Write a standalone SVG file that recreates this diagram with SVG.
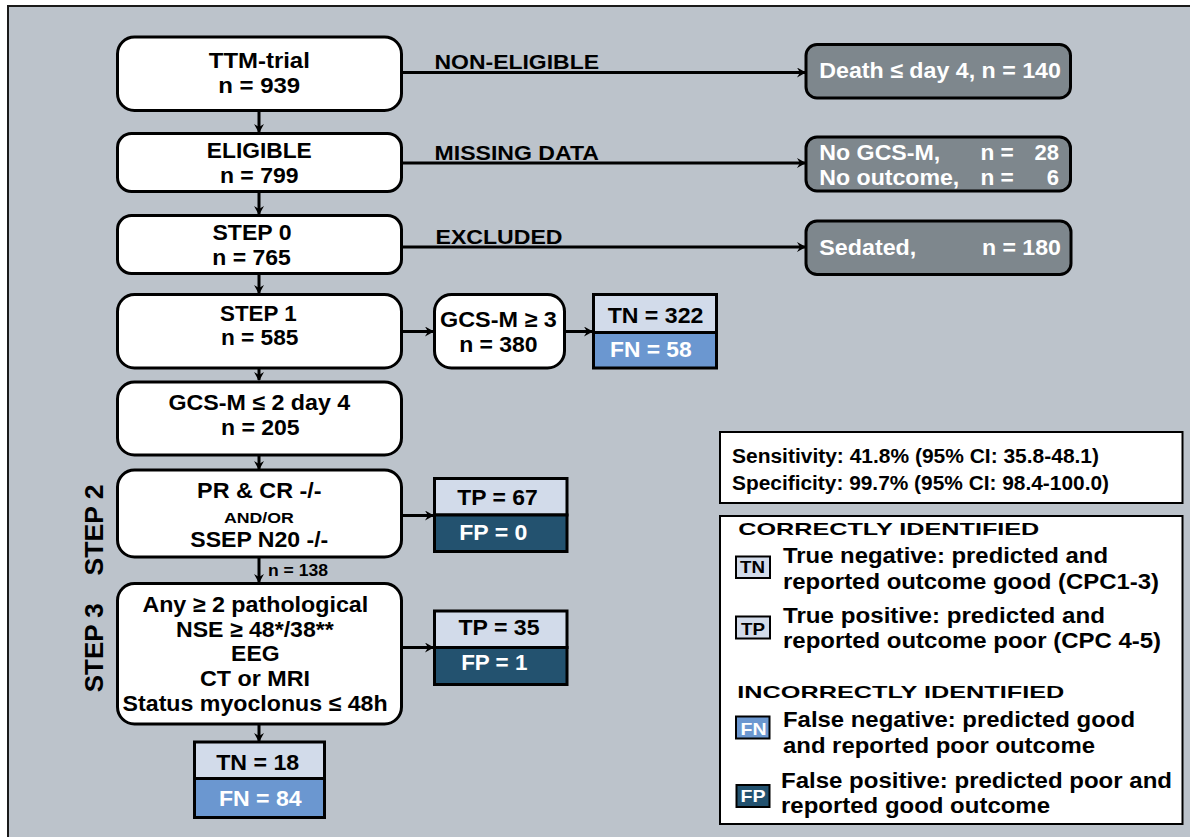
<svg xmlns="http://www.w3.org/2000/svg" width="1190" height="837" viewBox="0 0 1190 837">
<defs>
<style>
.bg{fill:#bcc3cb;stroke:#1a1a1a;stroke-width:2}
.box{fill:#ffffff;stroke:#000;stroke-width:3}
.gbox{fill:#7e878d;stroke:#000;stroke-width:3}
.lt{fill:#d2dbea;stroke:#000;stroke-width:3}
.fn{fill:#6b97d0;stroke:#000;stroke-width:3}
.fp{fill:#23526f;stroke:#000;stroke-width:3}
.ico{stroke-width:2}
text{font-family:"Liberation Sans",Arial,sans-serif;font-weight:bold}
.t{font-size:22px;fill:#000;text-anchor:middle}
.tw{font-size:22px;fill:#fff}
.lab{font-size:21px;fill:#000}
.sm{font-size:15px;fill:#000;text-anchor:middle}
.st{font-size:20px;fill:#000}
.leg{font-size:22px;fill:#000}
.hd{font-size:17px;fill:#000}
.ic{font-size:17px;text-anchor:middle}
.ln{stroke:#000;stroke-width:3;fill:none}
</style>
<marker id="ah" markerWidth="10" markerHeight="10" refX="8" refY="5" orient="auto" markerUnits="userSpaceOnUse">
<path d="M0,0 L9,5 L0,10 L3,5 Z" fill="#000"/>
</marker>
</defs>
<rect x="0" y="0" width="1190" height="837" fill="#fff"/>
<rect class="bg" x="8" y="6" width="1190" height="840"/>

<g id="connectors">
<line class="ln" x1="259" y1="111" x2="259" y2="132" marker-end="url(#ah)"/>
<line class="ln" x1="259" y1="192" x2="259" y2="214" marker-end="url(#ah)"/>
<line class="ln" x1="259" y1="273" x2="259" y2="293" marker-end="url(#ah)"/>
<line class="ln" x1="259" y1="368" x2="259" y2="380" marker-end="url(#ah)"/>
<line class="ln" x1="259" y1="455" x2="259" y2="469" marker-end="url(#ah)"/>
<line class="ln" x1="259" y1="557" x2="259" y2="582" marker-end="url(#ah)"/>
<line class="ln" x1="259" y1="724" x2="259" y2="741" marker-end="url(#ah)"/>
<line class="ln" x1="402" y1="72.5" x2="805" y2="72.5" marker-end="url(#ah)"/>
<line class="ln" x1="402" y1="163" x2="805" y2="163" marker-end="url(#ah)"/>
<line class="ln" x1="402" y1="247" x2="805" y2="247" marker-end="url(#ah)"/>
<line class="ln" x1="402" y1="331.5" x2="433" y2="331.5" marker-end="url(#ah)"/>
<line class="ln" x1="565" y1="331.5" x2="592" y2="331.5" marker-end="url(#ah)"/>
<line class="ln" x1="402" y1="515.5" x2="433" y2="515.5" marker-end="url(#ah)"/>
<line class="ln" x1="402" y1="647.5" x2="433" y2="647.5" marker-end="url(#ah)"/>
<text class="lab" x="434.5" y="69" textLength="164.5" lengthAdjust="spacingAndGlyphs">NON-ELIGIBLE</text>
<text class="lab" x="434.5" y="160" textLength="164.5" lengthAdjust="spacingAndGlyphs">MISSING DATA</text>
<text class="lab" x="435.5" y="244.3" textLength="127" lengthAdjust="spacingAndGlyphs">EXCLUDED</text>
<text x="268" y="576" style="font-size:16px" textLength="60" lengthAdjust="spacingAndGlyphs">n = 138</text>
</g>

<g id="ttm"><rect class="box" x="117.5" y="37" width="284" height="73.5" rx="17"/>
<text class="t" x="259.3" y="68.3" textLength="101" lengthAdjust="spacingAndGlyphs">TTM-trial</text>
<text class="t" x="259.2" y="93.3" textLength="82" lengthAdjust="spacingAndGlyphs">n = 939</text></g>
<g id="eligible"><rect class="box" x="117.5" y="133.5" width="284" height="58" rx="14"/>
<text class="t" x="259.3" y="157.7" textLength="105" lengthAdjust="spacingAndGlyphs">ELIGIBLE</text>
<text class="t" x="259.2" y="182.7" textLength="78.5" lengthAdjust="spacingAndGlyphs">n = 799</text></g>
<g id="step0"><rect class="box" x="117.5" y="215.5" width="284" height="58" rx="14"/>
<text class="t" x="252" y="240" textLength="79" lengthAdjust="spacingAndGlyphs">STEP 0</text>
<text class="t" x="251.6" y="265" textLength="78.5" lengthAdjust="spacingAndGlyphs">n = 765</text></g>
<g id="step1"><rect class="box" x="117.5" y="294.5" width="284" height="73.5" rx="17"/>
<text class="t" x="258.3" y="320.7" textLength="76.6" lengthAdjust="spacingAndGlyphs">STEP 1</text>
<text class="t" x="259.7" y="345" textLength="77.5" lengthAdjust="spacingAndGlyphs">n = 585</text></g>
<g id="gcs2"><rect class="box" x="117.5" y="382" width="284" height="73" rx="17"/>
<text class="t" x="259.3" y="410" textLength="181.8" lengthAdjust="spacingAndGlyphs">GCS-M ≤ 2 day 4</text>
<text class="t" x="260.3" y="435" textLength="78.7" lengthAdjust="spacingAndGlyphs">n = 205</text></g>
<g id="step2"><rect class="box" x="117.5" y="470" width="284" height="87" rx="17"/>
<text class="t" x="259.3" y="498.3" textLength="124.4" lengthAdjust="spacingAndGlyphs">PR &amp; CR -/-</text>
<text class="sm" x="258.9" y="522.7" textLength="70" lengthAdjust="spacingAndGlyphs">AND/OR</text>
<text class="t" x="259.3" y="546.7" textLength="138" lengthAdjust="spacingAndGlyphs">SSEP N20 -/-</text></g>
<g id="step3"><rect class="box" x="117.5" y="583.5" width="284" height="140.5" rx="17"/>
<text class="t" x="255.3" y="611.7" textLength="225.8" lengthAdjust="spacingAndGlyphs">Any ≥ 2 pathological</text>
<text class="t" x="254.9" y="636.7" textLength="157.7" lengthAdjust="spacingAndGlyphs">NSE ≥ 48*/38**</text>
<text class="t" x="255.3" y="661" textLength="48.4" lengthAdjust="spacingAndGlyphs">EEG</text>
<text class="t" x="255" y="686" textLength="110" lengthAdjust="spacingAndGlyphs">CT or MRI</text>
<text class="t" x="255.1" y="711" textLength="265" lengthAdjust="spacingAndGlyphs">Status myoclonus ≤ 48h</text></g>
<g id="steplabels">
<text class="lab" transform="translate(102.5,530) rotate(-90)" text-anchor="middle" style="font-size:26px" textLength="91" lengthAdjust="spacingAndGlyphs">STEP 2</text>
<text class="lab" transform="translate(102.5,647.7) rotate(-90)" text-anchor="middle" style="font-size:26px" textLength="89" lengthAdjust="spacingAndGlyphs">STEP 3</text>
</g>
<g id="gcs3"><rect class="box" x="434.5" y="294.5" width="130" height="73.5" rx="17"/>
<text class="t" x="498.4" y="326.7" textLength="116.8" lengthAdjust="spacingAndGlyphs">GCS-M ≥ 3</text>
<text class="t" x="498.4" y="351.7" textLength="78.5" lengthAdjust="spacingAndGlyphs">n = 380</text></g>
<g id="res1"><rect class="lt" x="593.5" y="294.5" width="123" height="38"/><rect class="fn" x="593.5" y="332.5" width="123" height="35.5"/>
<text class="t" x="655.5" y="323.3" textLength="95.7" lengthAdjust="spacingAndGlyphs">TN = 322</text>
<text class="tw" x="610" y="356.7" textLength="81.7" lengthAdjust="spacingAndGlyphs">FN = 58</text></g>
<g id="res2"><rect class="lt" x="434.5" y="478.5" width="132.5" height="36.5"/><rect class="fp" x="434.5" y="515" width="132.5" height="36.5"/>
<text class="t" x="497.5" y="505" textLength="80.4" lengthAdjust="spacingAndGlyphs">TP = 67</text>
<text class="tw" x="459.2" y="540" textLength="68.2" lengthAdjust="spacingAndGlyphs">FP = 0</text></g>
<g id="res3"><rect class="lt" x="434.5" y="611" width="132.5" height="36.5"/><rect class="fp" x="434.5" y="647.5" width="132.5" height="37"/>
<text class="t" x="499" y="635" textLength="81" lengthAdjust="spacingAndGlyphs">TP = 35</text>
<text class="tw" x="461.2" y="670" textLength="66.2" lengthAdjust="spacingAndGlyphs">FP = 1</text></g>
<g id="res4"><rect class="lt" x="194.5" y="742" width="130" height="36.5"/><rect class="fn" x="194.5" y="778.5" width="130" height="39"/>
<text class="t" x="257.7" y="770" textLength="83" lengthAdjust="spacingAndGlyphs">TN = 18</text>
<text class="tw" x="218.9" y="805.7" textLength="82.7" lengthAdjust="spacingAndGlyphs">FN = 84</text></g>
<g id="death"><rect class="gbox" x="806" y="44.5" width="264.5" height="53.5" rx="11"/>
<text class="tw" x="819.3" y="78.3" textLength="241.6" lengthAdjust="spacingAndGlyphs">Death ≤ day 4, n = 140</text></g>
<g id="missing"><rect class="gbox" x="806" y="137" width="264.5" height="54" rx="11"/>
<text class="tw" x="819.3" y="160" textLength="121" lengthAdjust="spacingAndGlyphs">No GCS-M,</text>
<text class="tw" x="980.4" y="160" textLength="33.4" lengthAdjust="spacingAndGlyphs">n =</text>
<text class="tw" x="1059" y="160" text-anchor="end">28</text>
<text class="tw" x="819.3" y="184.5" textLength="140" lengthAdjust="spacingAndGlyphs">No outcome,</text>
<text class="tw" x="980.4" y="184.5" textLength="33.4" lengthAdjust="spacingAndGlyphs">n =</text>
<text class="tw" x="1059" y="184.5" text-anchor="end">6</text></g>
<g id="sedated"><rect class="gbox" x="806" y="221" width="265" height="53.5" rx="11"/>
<text class="tw" x="819.3" y="255" textLength="97" lengthAdjust="spacingAndGlyphs">Sedated,</text>
<text class="tw" x="981.9" y="255" textLength="79" lengthAdjust="spacingAndGlyphs">n = 180</text></g>
<g id="stats"><rect x="720" y="432" width="462.5" height="71" fill="#fff" stroke="#000" stroke-width="2"/>
<text class="st" x="732" y="463" textLength="367" lengthAdjust="spacingAndGlyphs">Sensitivity: 41.8% (95% CI: 35.8-48.1)</text>
<text class="st" x="732" y="490" textLength="377" lengthAdjust="spacingAndGlyphs">Specificity: 99.7% (95% CI: 98.4-100.0)</text></g>
<g id="legend"><rect x="720" y="516" width="462.5" height="308" fill="#fff" stroke="#000" stroke-width="2"/>
<text class="hd" x="738.3" y="535" textLength="301" lengthAdjust="spacingAndGlyphs">CORRECTLY IDENTIFIED</text>
<rect class="lt ico" x="736" y="556.5" width="34" height="21.5"/><text class="ic" x="752.5" y="573.3" textLength="25" lengthAdjust="spacingAndGlyphs">TN</text>
<text class="leg" x="783" y="563" textLength="325" lengthAdjust="spacingAndGlyphs">True negative: predicted and</text>
<text class="leg" x="783" y="588.5" textLength="376" lengthAdjust="spacingAndGlyphs">reported outcome good (CPC1-3)</text>
<rect class="lt ico" x="736" y="616.5" width="34" height="22"/><text class="ic" x="753" y="635" textLength="24" lengthAdjust="spacingAndGlyphs">TP</text>
<text class="leg" x="783" y="622.5" textLength="322" lengthAdjust="spacingAndGlyphs">True positive: predicted and</text>
<text class="leg" x="783" y="648" textLength="378" lengthAdjust="spacingAndGlyphs">reported outcome poor (CPC 4-5)</text>
<text class="hd" x="737.3" y="698" textLength="327" lengthAdjust="spacingAndGlyphs">INCORRECTLY IDENTIFIED</text>
<rect class="fn ico" x="736" y="716.5" width="33.5" height="22"/><text class="ic" x="753.5" y="735" fill="#fff" textLength="26" lengthAdjust="spacingAndGlyphs">FN</text>
<text class="leg" x="783" y="727" textLength="352" lengthAdjust="spacingAndGlyphs">False negative: predicted good</text>
<text class="leg" x="783" y="753" textLength="312" lengthAdjust="spacingAndGlyphs">and reported poor outcome</text>
<rect class="fp ico" x="736.5" y="785" width="33" height="22"/><text class="ic" x="753" y="801.5" fill="#fff" textLength="25" lengthAdjust="spacingAndGlyphs">FP</text>
<text class="leg" x="781" y="788" textLength="391" lengthAdjust="spacingAndGlyphs">False positive: predicted poor and</text>
<text class="leg" x="781" y="813" textLength="269" lengthAdjust="spacingAndGlyphs">reported good outcome</text></g>
</svg>
